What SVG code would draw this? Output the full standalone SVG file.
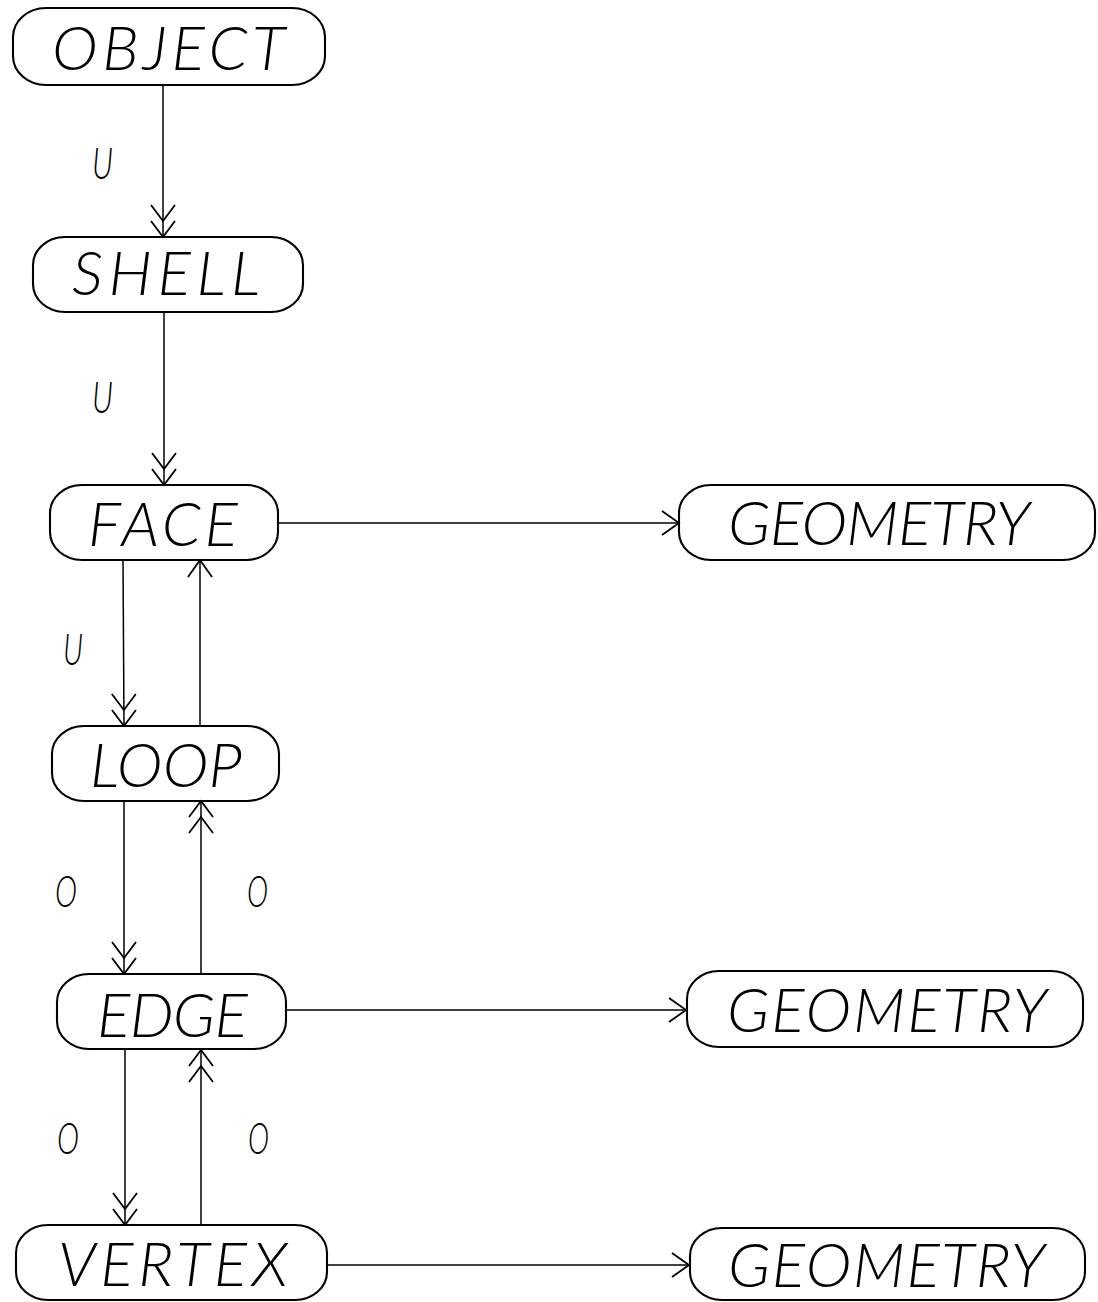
<svg xmlns="http://www.w3.org/2000/svg" width="1098" height="1302" viewBox="0 0 1098 1302">
  <style>
    .box { fill: none; stroke: #000; stroke-width: 2.1; }
    .name { font-family: "Lato", "DejaVu Sans", sans-serif; font-weight: 300; font-style: italic; font-size: 62px; fill: #000; }
    .lbl { font-family: "Lato", "DejaVu Sans", sans-serif; font-weight: 300; font-style: italic; font-size: 43px; fill: #000; }
    .link { fill: none; stroke: #000; stroke-width: 1.5; }
  </style>
  <defs>
    <marker id="one" markerUnits="userSpaceOnUse" viewBox="-20 -15 24 30" refX="0" refY="0" markerWidth="24" markerHeight="30" orient="auto" overflow="visible">
      <path d="M-17,-12 L0,0 L-17,12" fill="none" stroke="#000" stroke-width="1.8"/>
    </marker>
    <marker id="two" markerUnits="userSpaceOnUse" viewBox="-36 -15 40 30" refX="0" refY="0" markerWidth="40" markerHeight="30" orient="auto" overflow="visible">
      <path d="M-16,-12 L0,0 L-16,12 M-32,-12 L-16,0 L-32,12" fill="none" stroke="#000" stroke-width="1.8"/>
    </marker>
  </defs>
  <rect width="1098" height="1302" fill="#fff"/>

  <!-- connectors and their U / O labels -->
  <g id="connectors">
    <line class="link" x1="163" y1="85" x2="163" y2="237" marker-end="url(#two)"/>
    <line class="link" x1="164" y1="312" x2="164" y2="485" marker-end="url(#two)"/>
    <line class="link" x1="123" y1="560" x2="124" y2="726" marker-end="url(#two)"/>
    <line class="link" x1="200" y1="726" x2="200" y2="560" marker-end="url(#one)"/>
    <line class="link" x1="124" y1="801" x2="124" y2="974" marker-end="url(#two)"/>
    <line class="link" x1="201" y1="974" x2="201" y2="801" marker-end="url(#two)"/>
    <line class="link" x1="125" y1="1049" x2="125" y2="1225" marker-end="url(#two)"/>
    <line class="link" x1="201" y1="1225" x2="201" y2="1050" marker-end="url(#two)"/>
    <line class="link" x1="278" y1="523" x2="679" y2="523" marker-end="url(#one)"/>
    <line class="link" x1="286" y1="1010" x2="686" y2="1010" marker-end="url(#one)"/>
    <line class="link" x1="327" y1="1265" x2="689" y2="1265" marker-end="url(#one)"/>
    <text class="lbl" x="92" y="179" textLength="21" lengthAdjust="spacingAndGlyphs">U</text>
    <text class="lbl" x="92" y="413" textLength="21" lengthAdjust="spacingAndGlyphs">U</text>
    <text class="lbl" x="63" y="665" textLength="20" lengthAdjust="spacingAndGlyphs">U</text>
    <text class="lbl" x="55" y="907" textLength="22" lengthAdjust="spacingAndGlyphs">O</text>
    <text class="lbl" x="247" y="907" textLength="21" lengthAdjust="spacingAndGlyphs">O</text>
    <text class="lbl" x="57" y="1154" textLength="22" lengthAdjust="spacingAndGlyphs">O</text>
    <text class="lbl" x="248" y="1154" textLength="21" lengthAdjust="spacingAndGlyphs">O</text>
  </g>

  <!-- entity nodes -->
  <g id="object">
    <rect class="box" x="13" y="8" width="312" height="77" rx="33" ry="29"/>
    <text class="name" x="52" y="70" textLength="233" lengthAdjust="spacing">OBJECT</text>
  </g>
  <g id="shell">
    <rect class="box" x="33" y="237" width="270" height="75" rx="32" ry="28"/>
    <text class="name" x="72" y="295" textLength="188" lengthAdjust="spacing">SHELL</text>
  </g>
  <g id="face">
    <rect class="box" x="50" y="485" width="228" height="75" rx="32" ry="28"/>
    <text class="name" x="88" y="546" textLength="150" lengthAdjust="spacing">FACE</text>
  </g>
  <g id="loop">
    <rect class="box" x="52" y="726" width="227" height="75" rx="32" ry="28"/>
    <text class="name" x="90" y="787" textLength="152" lengthAdjust="spacing">LOOP</text>
  </g>
  <g id="edge">
    <rect class="box" x="57" y="974" width="229" height="75" rx="32" ry="28"/>
    <text class="name" x="97" y="1037" textLength="151" lengthAdjust="spacing">EDGE</text>
  </g>
  <g id="vertex">
    <rect class="box" x="16" y="1225" width="311" height="75" rx="32" ry="28"/>
    <text class="name" x="58" y="1286" font-size="60" textLength="230" lengthAdjust="spacing">VERTEX</text>
  </g>
  <g id="geometry-face">
    <rect class="box" x="679" y="485" width="416" height="75" rx="32" ry="28"/>
    <text class="name" x="728" y="545" textLength="302" lengthAdjust="spacing">GEOMETRY</text>
  </g>
  <g id="geometry-edge">
    <rect class="box" x="687" y="971" width="396" height="76" rx="32" ry="28"/>
    <text class="name" x="727" y="1032" textLength="320" lengthAdjust="spacing">GEOMETRY</text>
  </g>
  <g id="geometry-vertex">
    <rect class="box" x="690" y="1228" width="395" height="72" rx="32" ry="28"/>
    <text class="name" x="728" y="1287" font-size="60" textLength="317" lengthAdjust="spacing">GEOMETRY</text>
  </g>
</svg>
